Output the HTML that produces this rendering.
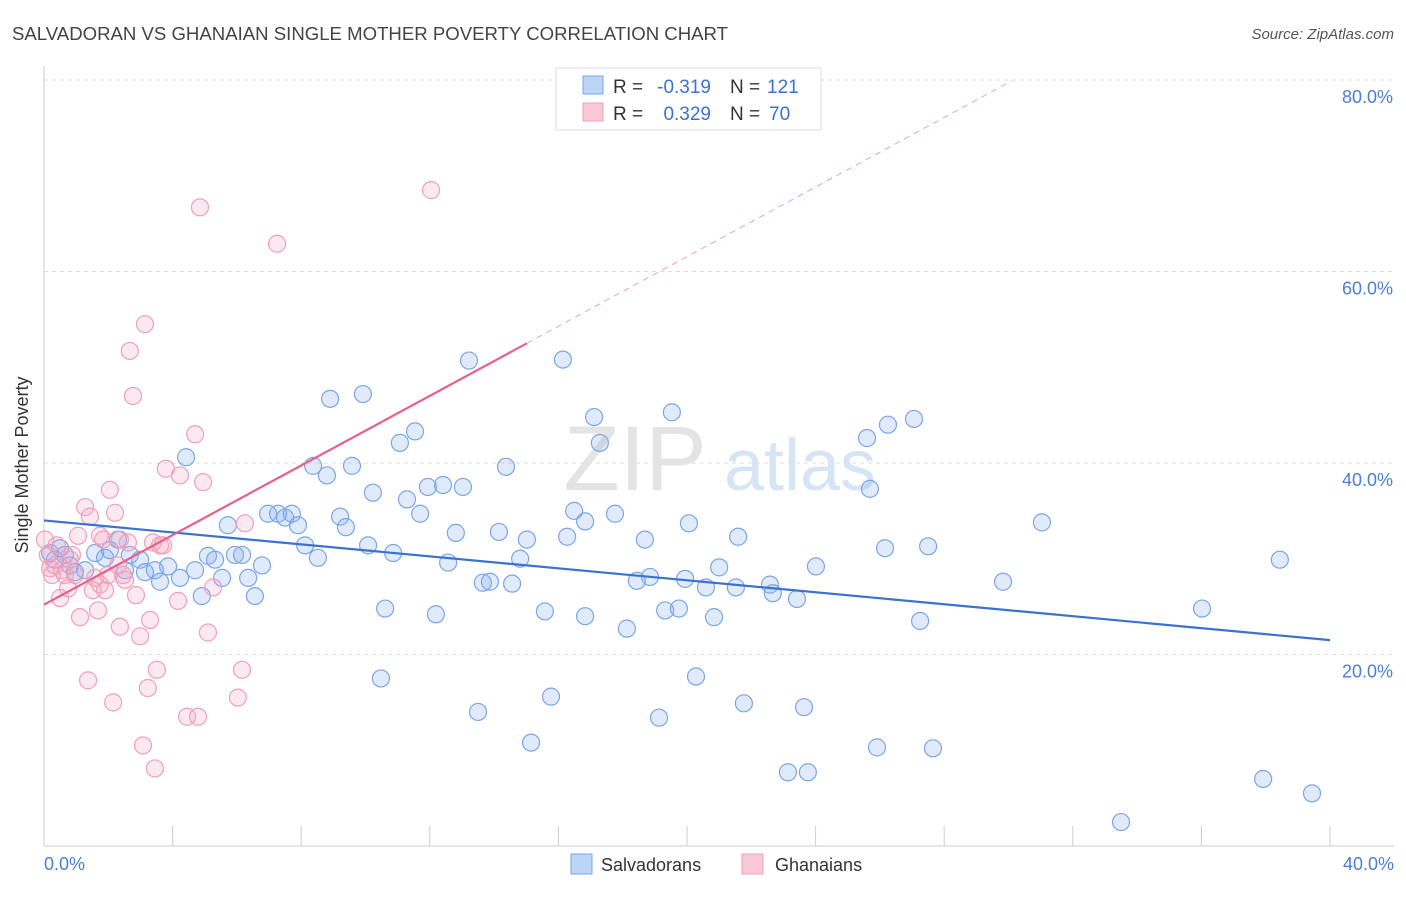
<!DOCTYPE html>
<html><head><meta charset="utf-8"><style>
body{margin:0;background:#fff;font-family:"Liberation Sans",sans-serif;}
svg text{font-family:"Liberation Sans",sans-serif;}
</style></head><body>
<svg width="1406" height="892" viewBox="0 0 1406 892">
<text x="12" y="40" font-size="18.6" fill="#444">SALVADORAN VS GHANAIAN SINGLE MOTHER POVERTY CORRELATION CHART</text>
<text x="1394" y="39" font-size="15" fill="#555" font-style="italic" text-anchor="end">Source: ZipAtlas.com</text>
<g id="grid"></g>
<g><text x="635" y="490" font-size="92" fill="#e4e4e4" font-family="Liberation Serif" text-anchor="middle">ZIP</text><text x="800" y="490" font-size="72" fill="#d6e4f6" text-anchor="middle">atlas</text></g>
<g id="pts"></g>
<g id="trends"></g>
<text x="18" y="455" font-size="18" fill="#333" transform="rotate(-90 28 455)" text-anchor="middle">Single Mother Poverty</text>
<g id="yticks"></g>
<text x="44" y="870" font-size="18" fill="#4a7fd4">0.0%</text>
<text x="1394" y="870" font-size="18" fill="#4a7fd4" text-anchor="end">40.0%</text>
<g>
<rect x="556" y="68" width="265" height="62" fill="#fff" stroke="#ddd"/>
<rect x="583" y="76" width="20" height="18" fill="#bcd4f6" stroke="#7aa6e8"/>
<text x="613" y="93" font-size="19" fill="#333">R =</text>
<text x="711" y="93" font-size="19" fill="#3a72d0" text-anchor="end">-0.319</text>
<text x="730" y="93" font-size="19" fill="#333">N =</text>
<text x="767" y="93" font-size="19" fill="#3a72d0">121</text>
<rect x="583" y="103" width="20" height="18" fill="#f9c8d6" stroke="#f0a0b8"/>
<text x="613" y="120" font-size="19" fill="#333">R =</text>
<text x="711" y="120" font-size="19" fill="#3a72d0" text-anchor="end">0.329</text>
<text x="730" y="120" font-size="19" fill="#333">N =</text>
<text x="769" y="120" font-size="19" fill="#3a72d0">70</text>
</g>
<g>
<rect x="571" y="854" width="21" height="20" fill="#bcd4f6" stroke="#7aa6e8"/>
<text x="601" y="871" font-size="18" fill="#333">Salvadorans</text>
<rect x="742" y="854" width="21" height="20" fill="#f9c8d6" stroke="#f0a0b8"/>
<text x="775" y="871" font-size="18" fill="#333">Ghanaians</text>
</g>
</svg>
<script>
const yTicks=[20,40,60,80];
const blueX=[0.19,0.34,0.5,0.65,0.81,0.96,1.28,1.59,1.9,2.05,2.3,2.52,2.67,2.99,3.14,3.45,3.61,3.86,4.23,4.42,4.7,4.91,5.1,5.32,5.54,5.72,5.94,6.16,6.35,6.56,6.78,6.97,7.28,7.5,7.71,7.9,8.12,8.37,8.52,8.8,8.9,9.21,9.39,9.58,9.92,10.08,10.23,10.48,10.61,10.86,11.07,11.29,11.54,11.7,11.94,12.19,12.41,12.57,12.81,13.03,13.22,13.5,13.65,13.87,14.15,14.37,14.56,14.81,15.02,15.15,15.58,15.77,16.14,16.27,16.49,16.83,16.83,17.11,17.29,17.76,18.13,18.44,18.69,18.85,19.13,19.32,19.53,19.75,19.94,20.06,20.28,20.59,20.84,21.0,21.59,21.52,21.77,22.58,22.67,23.14,23.42,23.64,23.76,24.01,25.6,25.69,25.91,26.16,26.25,27.06,27.25,27.5,27.65,29.83,31.04,33.5,36.02,37.92,38.44,39.44];
const blueY=[30.6,29.9,31.1,30.4,29.3,28.6,28.8,30.6,30.1,30.9,32.0,28.8,30.4,29.9,28.6,28.8,27.6,29.2,28.0,40.6,28.8,26.1,30.3,29.9,28.0,33.5,30.4,30.4,28.0,26.1,29.3,34.7,34.7,34.3,34.7,33.5,31.4,39.7,30.1,38.7,46.7,34.4,33.3,39.7,47.2,31.4,36.9,17.5,24.8,30.6,42.1,36.2,43.3,34.7,37.5,24.2,37.7,29.6,32.7,37.5,50.7,14.0,27.5,27.6,32.8,39.6,27.4,30.0,32.0,10.8,24.5,15.6,50.8,32.3,35.0,33.9,24.0,44.8,42.1,34.7,22.7,27.7,32.0,28.1,13.4,24.6,45.3,24.8,27.9,33.7,17.7,27.0,23.9,29.1,32.3,27.0,14.9,27.3,26.4,7.7,25.8,14.5,7.7,29.2,42.6,37.3,10.3,31.1,44.0,44.6,23.5,31.3,10.2,27.6,33.8,2.5,24.8,7.0,29.9,5.5];
const pinkX=[0.03,0.12,0.19,0.25,0.34,0.4,0.5,0.56,0.65,0.75,0.81,0.87,0.96,1.06,1.12,1.28,1.37,1.43,1.52,1.59,1.68,1.74,1.84,1.9,1.99,2.05,2.15,2.21,2.3,2.36,2.46,2.52,2.61,2.67,2.77,2.86,2.99,3.08,3.14,3.23,3.3,3.39,3.45,3.51,3.61,3.7,3.79,4.17,4.23,4.45,4.7,4.79,4.85,4.95,5.1,5.26,6.16,6.03,6.25,7.25,12.04,2.36,1.74];
const pinkY=[32.0,30.4,29.0,28.3,29.3,31.4,25.9,28.8,28.3,26.9,29.9,30.4,28.3,32.4,23.9,35.4,17.3,34.4,26.7,28.0,24.6,27.3,32.0,26.7,28.3,37.2,15.0,34.8,29.3,22.9,28.3,27.8,31.7,51.7,47.0,26.2,21.9,10.5,54.5,16.5,23.6,31.7,8.1,18.4,31.4,31.4,39.4,25.6,38.7,13.5,43.0,13.5,66.7,38.0,22.3,27.0,18.4,15.5,33.7,62.9,68.5,32.0,32.4];
const blueTrend=[0,34.0,40,21.5];
const pinkTrend=[0,25.2,15.02,52.5];
const pinkDashEnd=30.1;

const NS="http://www.w3.org/2000/svg";
const X=v=>44+v*32.15, Y=v=>846-v*9.575;
function mk(tag,attrs,parent){const e=document.createElementNS(NS,tag);for(const k in attrs)e.setAttribute(k,attrs[k]);parent.appendChild(e);return e;}
const grid=document.getElementById('grid');
yTicks.forEach(t=>{const l=mk('line',{x1:44,x2:1394,y1:Y(t),y2:Y(t),stroke:'#ddd','stroke-dasharray':'4,4'},grid);


const tx=mk('text',{x:1393,y:Y(t)+23,'font-size':18,fill:'#4a7fd4','text-anchor':'end'},document.getElementById('yticks'));tx.textContent=t.toFixed(1)+'%';

});
const ax=mk('line',{x1:44,x2:1394,y1:846,y2:846,stroke:'#ccc'},grid);


const ay=mk('line',{x1:44,x2:44,y1:66,y2:846,stroke:'#ccc'},grid);


for(let i=1;i<=10;i++){const tk=mk('line',{x1:X(i*4),x2:X(i*4),y1:826,y2:846,stroke:'#ccc'},grid);

}
const pts=document.getElementById('pts');
blueX.forEach((x,i)=>{const c=mk('circle',{cx:X(x),cy:Y(blueY[i]),r:8.5,fill:'rgba(130,172,238,0.25)',stroke:'#7aa6e8','stroke-width':1.2},pts);

});
pinkX.forEach((x,i)=>{const c=mk('circle',{cx:X(x),cy:Y(pinkY[i]),r:8.5,fill:'rgba(245,165,195,0.25)',stroke:'#f0a0b8','stroke-width':1.2},pts);

});
const tr=document.getElementById('trends');
const b=mk('line',{x1:X(blueTrend[0]),y1:Y(blueTrend[1]),x2:X(blueTrend[2]),y2:Y(blueTrend[3]),stroke:'#3a72d0','stroke-width':2.2},tr);


const p=mk('line',{x1:X(pinkTrend[0]),y1:Y(pinkTrend[1]),x2:X(pinkTrend[2]),y2:Y(pinkTrend[3]),stroke:'#e8608a','stroke-width':2.2},tr);


const slope=(pinkTrend[3]-pinkTrend[1])/(pinkTrend[2]-pinkTrend[0]);
const d=mk('line',{x1:X(pinkTrend[2]),y1:Y(pinkTrend[3]),x2:X(pinkDashEnd),y2:Y(pinkTrend[1]+slope*pinkDashEnd),stroke:'#f0a0b8','stroke-width':1,'stroke-dasharray':'6,5'},tr);


</script>
</body></html>
